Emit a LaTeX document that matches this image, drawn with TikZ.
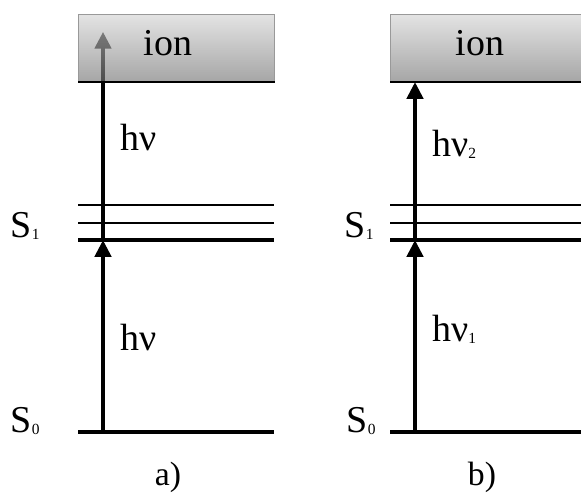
\documentclass[tikz,border=0pt]{standalone}
\usepackage{fontspec}
\setmainfont{Liberation Serif}
\usetikzlibrary{calc,arrows.meta,positioning}
\definecolor{ionlight}{RGB}{212,212,212}
\definecolor{iondark}{RGB}{118,118,118}
\newcommand{\lvsub}[1]{\raisebox{-1.5pt}{\fontsize{11}{11}\selectfont #1}}
\tikzset{
  ionbox/.style={draw=black!40, line width=0.6pt, top color=ionlight, bottom color=iondark,
                 fill opacity=0.65, minimum width=4.9cm, minimum height=1.675cm,
                 inner sep=0pt, anchor=south west},
  ionfloor/.style={line width=2.1pt, black},
  lvthin/.style={line width=1.8pt, black},
  lvbold/.style={line width=2.8pt, black},
  exc/.style={-{Triangle[length=4.2mm, width=4mm]}, line width=3.4pt, black},
  lvtext/.style={font=\fontsize{27}{31}\selectfont, inner sep=0pt},
  paneltext/.style={font=\fontsize{24}{28}\selectfont, inner sep=0pt},
}
\begin{document}
\begin{tikzpicture}
\useasboundingbox (0,0) rectangle (14.525,12.375);
\foreach \p/\dx in {a/0, b/7.8}{
    \coordinate (g\p) at (\dx+1.95,1.575);
    \coordinate (s0\p) at (\dx+2.575,1.575);
    \coordinate (s1\p) at (\dx+2.575,6.375);
}
\coordinate (ta) at (2.575,11.58);
\coordinate (tb) at (10.375,10.325);
\draw[exc] (s0a) -- (s1a);
\draw[exc] (s1a) -- (ta);
\draw[exc] (s0b) -- (s1b);
\draw[exc] (s1b) -- (tb);
\foreach \p in {a,b}{
    \node[ionbox] (box\p) at ($(g\p)+(0,8.75)$) {};
    \draw[ionfloor] (box\p.south west) -- (box\p.south east);
    \draw[lvbold] (g\p) -- ++(4.9,0);
    \draw[lvbold] ($(g\p)+(0,4.8)$) -- ++(4.9,0);
    \draw[lvthin] ($(g\p)+(0,5.225)$) -- ++(4.9,0);
    \draw[lvthin] ($(g\p)+(0,5.675)$) -- ++(4.9,0);
}
\node[lvtext, anchor=base] (iona) at (4.2,10.975) {ion};
\node[lvtext, anchor=base] (ionb) at (12.0,10.975) {ion};
\node[lvtext, anchor=base east] (S1a) at (1.0,6.45) {S\lvsub{1}};
\node[lvtext, anchor=base east] (S0a) at (1.0,1.575) {S\lvsub{0}};
\node[lvtext, anchor=base east] (S1b) at (9.35,6.45) {S\lvsub{1}};
\node[lvtext, anchor=base east] (S0b) at (9.4,1.575) {S\lvsub{0}};
\node[lvtext, anchor=base west] (hia) at (3.0,8.625) {hν};
\node[lvtext, anchor=base west] (loa) at (3.0,3.625) {hν};
\node[lvtext, anchor=base west] (hib) at (10.8,8.475) {hν\lvsub{2}};
\node[lvtext, anchor=base west] (lob) at (10.8,3.85) {hν\lvsub{1}};
\node[paneltext] (pa) at (4.2,0.45) {a)};
\node[paneltext] (pb) at (12.05,0.45) {b)};
\end{tikzpicture}
\end{document}
